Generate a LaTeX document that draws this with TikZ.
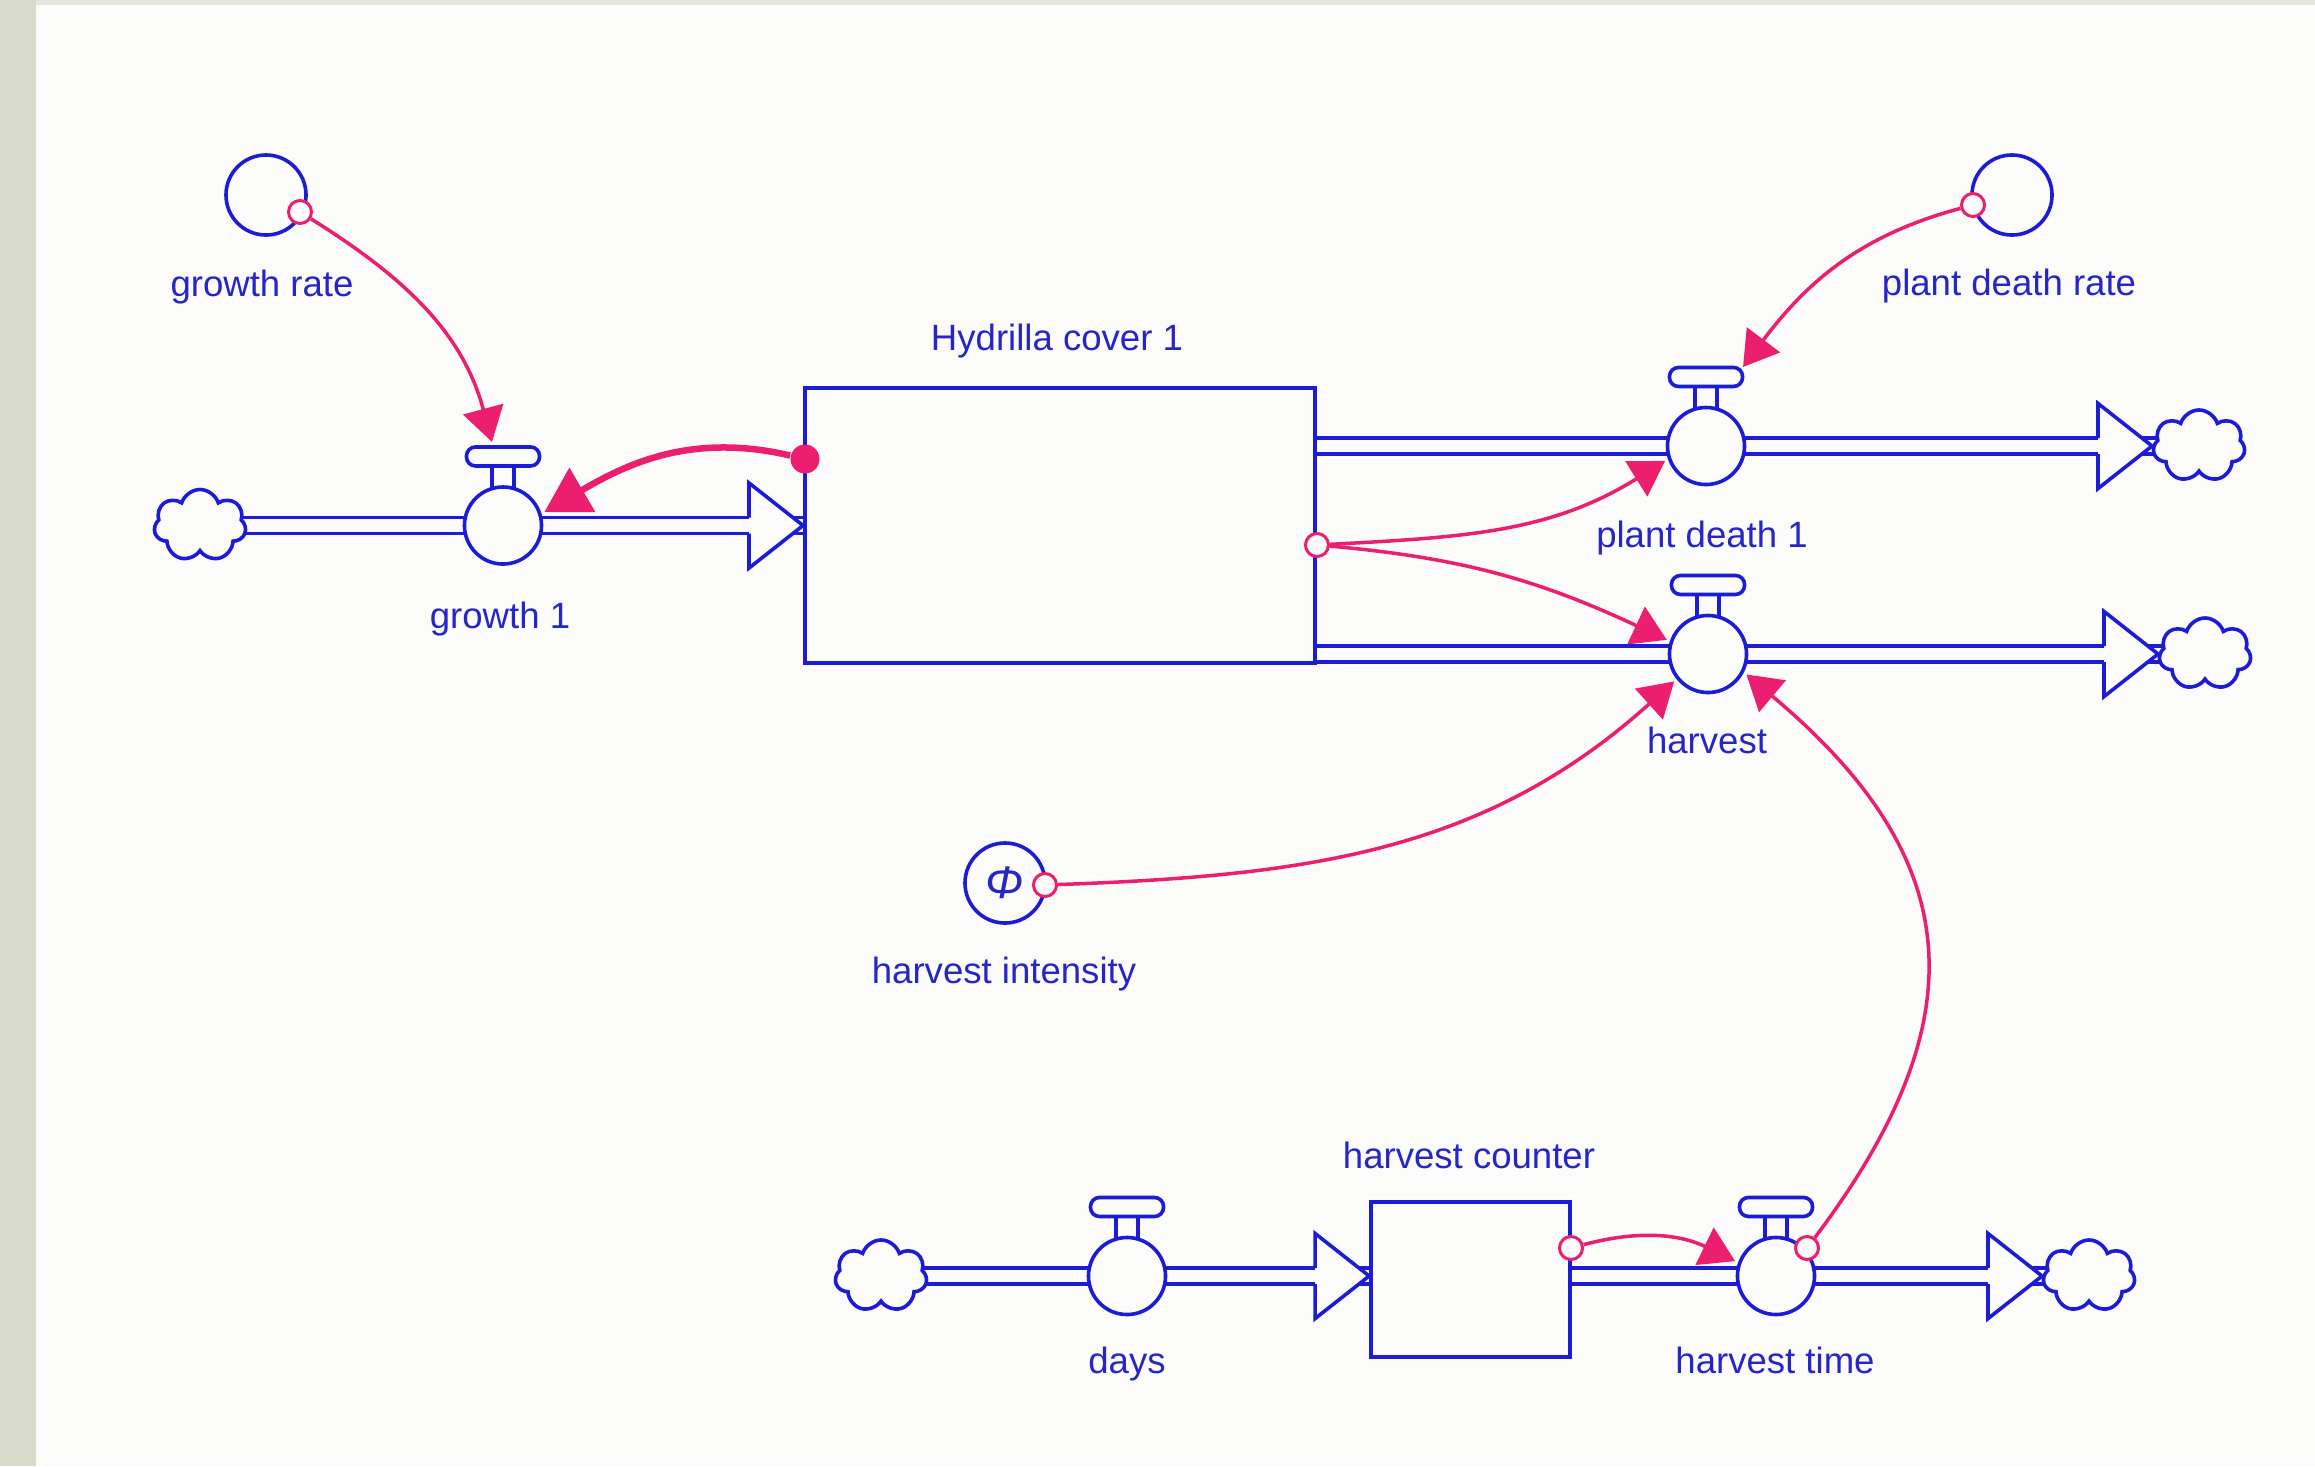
\documentclass[tikz,border=0pt]{standalone}
\usepackage{fontspec}
\setmainfont{Liberation Sans}
\usetikzlibrary{arrows.meta,shapes.symbols,calc}
\definecolor{sdblue}{RGB}{28,28,215}
\definecolor{sdtext}{RGB}{38,38,200}
\definecolor{sdpink}{RGB}{236,30,112}
\definecolor{panel}{RGB}{251,251,249}
\definecolor{edgegrey}{RGB}{216,219,204}
\definecolor{topgrey}{RGB}{228,229,220}
\pgfdeclarelayer{back}
\pgfdeclarelayer{pipes}
\pgfdeclarelayer{links}
\pgfsetlayers{back,pipes,links,main}
\tikzset{
 flowline/.style={draw=sdblue, line width=0.036cm},
 pipe/.style={draw=sdblue, line width=0.036cm, double=panel, double distance=0.124cm},
 stock/.style={flowline, fill=panel, rectangle, inner sep=0pt},
 valve/.style={flowline, fill=panel, circle, minimum size=0.77cm, inner sep=0pt, outer sep=0.05cm},
 aux/.style={flowline, fill=panel, circle, minimum size=0.8cm, inner sep=0pt},
 src/.style={circle, draw=sdpink, line width=0.03cm, fill=panel, minimum size=0.23cm, inner sep=0pt},
 srcdot/.style={circle, fill=sdpink, minimum size=0.29cm, inner sep=0pt},
 cloudnode/.style={cloud, cloud puffs=7, cloud puff arc=145, aspect=1.25, flowline, fill=panel, minimum width=0.92cm, minimum height=0.72cm, inner sep=0pt},
 link/.style={draw=sdpink, line width=0.035cm, -{Triangle[length=0.34cm,width=0.41cm]}},
 thicklink/.style={draw=sdpink, line width=0.065cm, -{Triangle[length=0.44cm,width=0.50cm]}},
 lbl/.style={text=sdtext, font=\fontsize{10.4pt}{12pt}\selectfont, anchor=base, inner sep=0pt},
}
\newcommand\valvehandle[1]{%
 \draw[flowline] ([shift={(-0.11cm,0.37cm)}]#1.center) -- ([shift={(-0.11cm,0.595cm)}]#1.center)
   ([shift={(0.11cm,0.37cm)}]#1.center) -- ([shift={(0.11cm,0.595cm)}]#1.center);
 \draw[flowline, fill=panel, rounded corners=0.09cm] ([shift={(-0.365cm,0.595cm)}]#1.center) rectangle ([shift={(0.365cm,0.785cm)}]#1.center);}
\newcommand\flowhead[1]{%
 \fill[panel] (#1) -- ++(-0.54cm,0.425cm) -- ++(0,-0.85cm) -- cycle;
 \draw[flowline, line join=miter] ([shift={(-0.54cm,0.08cm)}]#1) -- ++(0,0.345cm) -- (#1) -- ++(-0.54cm,-0.425cm) -- ++(0,0.345cm);}
\begin{document}
\begin{tikzpicture}[x=0.01cm, y=-0.01cm]
\useasboundingbox (0,0) rectangle (2315,1466);
\begin{pgfonlayer}{back}
 \fill[topgrey] (0,0) rectangle (2315,1466);
 \fill[edgegrey] (0,0) rectangle (36,1466);
 \fill[panel] (36,5) rectangle (2315,1466);
\end{pgfonlayer}

% main flow nodes
\node[cloudnode] (cL1) at (200,525.5) {};
\node[valve] (g1) at (503,525.5) {};
\node[stock, minimum width=5.1cm, minimum height=2.75cm] (hyd) at (1060,525.5) {};
\node[valve] (pd) at (1706,446) {};
\node[valve] (hv) at (1708,654) {};
\node[cloudnode] (cR1) at (2199,446) {};
\node[cloudnode] (cR2) at (2205,654) {};
\node[cloudnode] (cL2) at (881,1276) {};
\node[valve] (dy) at (1127,1276) {};
\node[stock, minimum width=1.99cm, minimum height=1.55cm] (hc) at (1470.5,1279.5) {};
\node[valve] (ht) at (1776,1276) {};
\node[cloudnode] (cR3) at (2089,1276) {};

\valvehandle{g1}
\valvehandle{pd}
\valvehandle{hv}
\valvehandle{dy}
\valvehandle{ht}

% auxiliaries
\node[aux] (gr) at (266,195) {};
\node[aux] (pdr) at (2012,195) {};
\node[aux] (hi) at (1005,883) {\textcolor{sdtext}{\fontsize{13pt}{13pt}\selectfont\itshape Φ}};

% labels
\node[lbl] (lgr) at (262,296) {growth rate};
\node[lbl] (lg1) at (500,628) {growth 1};
\node[lbl] (lhyd) at (1057,350) {Hydrilla cover 1};
\node[lbl] (lpdr) at (2009,295) {plant death rate};
\node[lbl] (lpd) at (1702,547) {plant death 1};
\node[lbl] (lhv) at (1707,753) {harvest};
\node[lbl] (lhi) at (1004,983) {harvest intensity};
\node[lbl] (lhc) at (1469,1168) {harvest counter};
\node[lbl] (ldy) at (1127,1373) {days};
\node[lbl] (lht) at (1775,1373) {harvest time};

% link sources
\node[src] (grS) at (300,212) {};
\node[src] (oH) at (1317,545) {};
\node[src] (hiS) at (1045,885) {};
\node[src] (pdS) at (1973,205) {};
\node[src] (hcS) at (1571,1248) {};
\node[src] (htS) at (1807,1248) {};
\node[srcdot] (dotH) at (805,459) {};

\coordinate (g1top) at ([shift={(-0.11cm,0.835cm)}]g1.center);
\coordinate (pdtop) at ([shift={(0.37cm,0.79cm)}]pd.center);
\coordinate (pdout) at (hyd.east |- pd.center);
\coordinate (hvout) at (hyd.east |- hv.center);
\coordinate (hcin) at (hc.west |- dy.center);
\coordinate (hcout) at (hc.east |- ht.center);

\begin{pgfonlayer}{pipes}
 \draw[pipe] (cL1.center) -- (hyd.west);
 \draw[pipe] (pdout) -- (cR1.center);
 \draw[pipe] (hvout) -- (cR2.center);
 \draw[pipe] (cL2.center) -- (hcin);
 \draw[pipe] (hcout) -- (cR3.center);
 \flowhead{hyd.west}
 \flowhead{cR1.west}
 \flowhead{cR2.west}
 \flowhead{hcin}
 \flowhead{cR3.west}
\end{pgfonlayer}

\begin{pgfonlayer}{links}
 \draw[link] (grS) to[out=-32,in=105] (g1top);
 \draw[thicklink] (dotH) .. controls (690,432) and (625,465) .. (g1.18);
 \draw[link] (oH) to[out=3,in=212] (pd.200);
 \draw[link] (oH) to[out=-5,in=155] (hv.161);
 \draw[link] (hiS) to[out=2,in=222] (hv.219);
 \draw[link] (pdS) to[out=195,in=53] (pdtop);
 \draw[link] (hcS) to[out=15,in=154] (ht.160);
 \draw[link] (htS) to[out=53,in=-40,looseness=1.27] (hv.-28);
\end{pgfonlayer}
\end{tikzpicture}
\end{document}
